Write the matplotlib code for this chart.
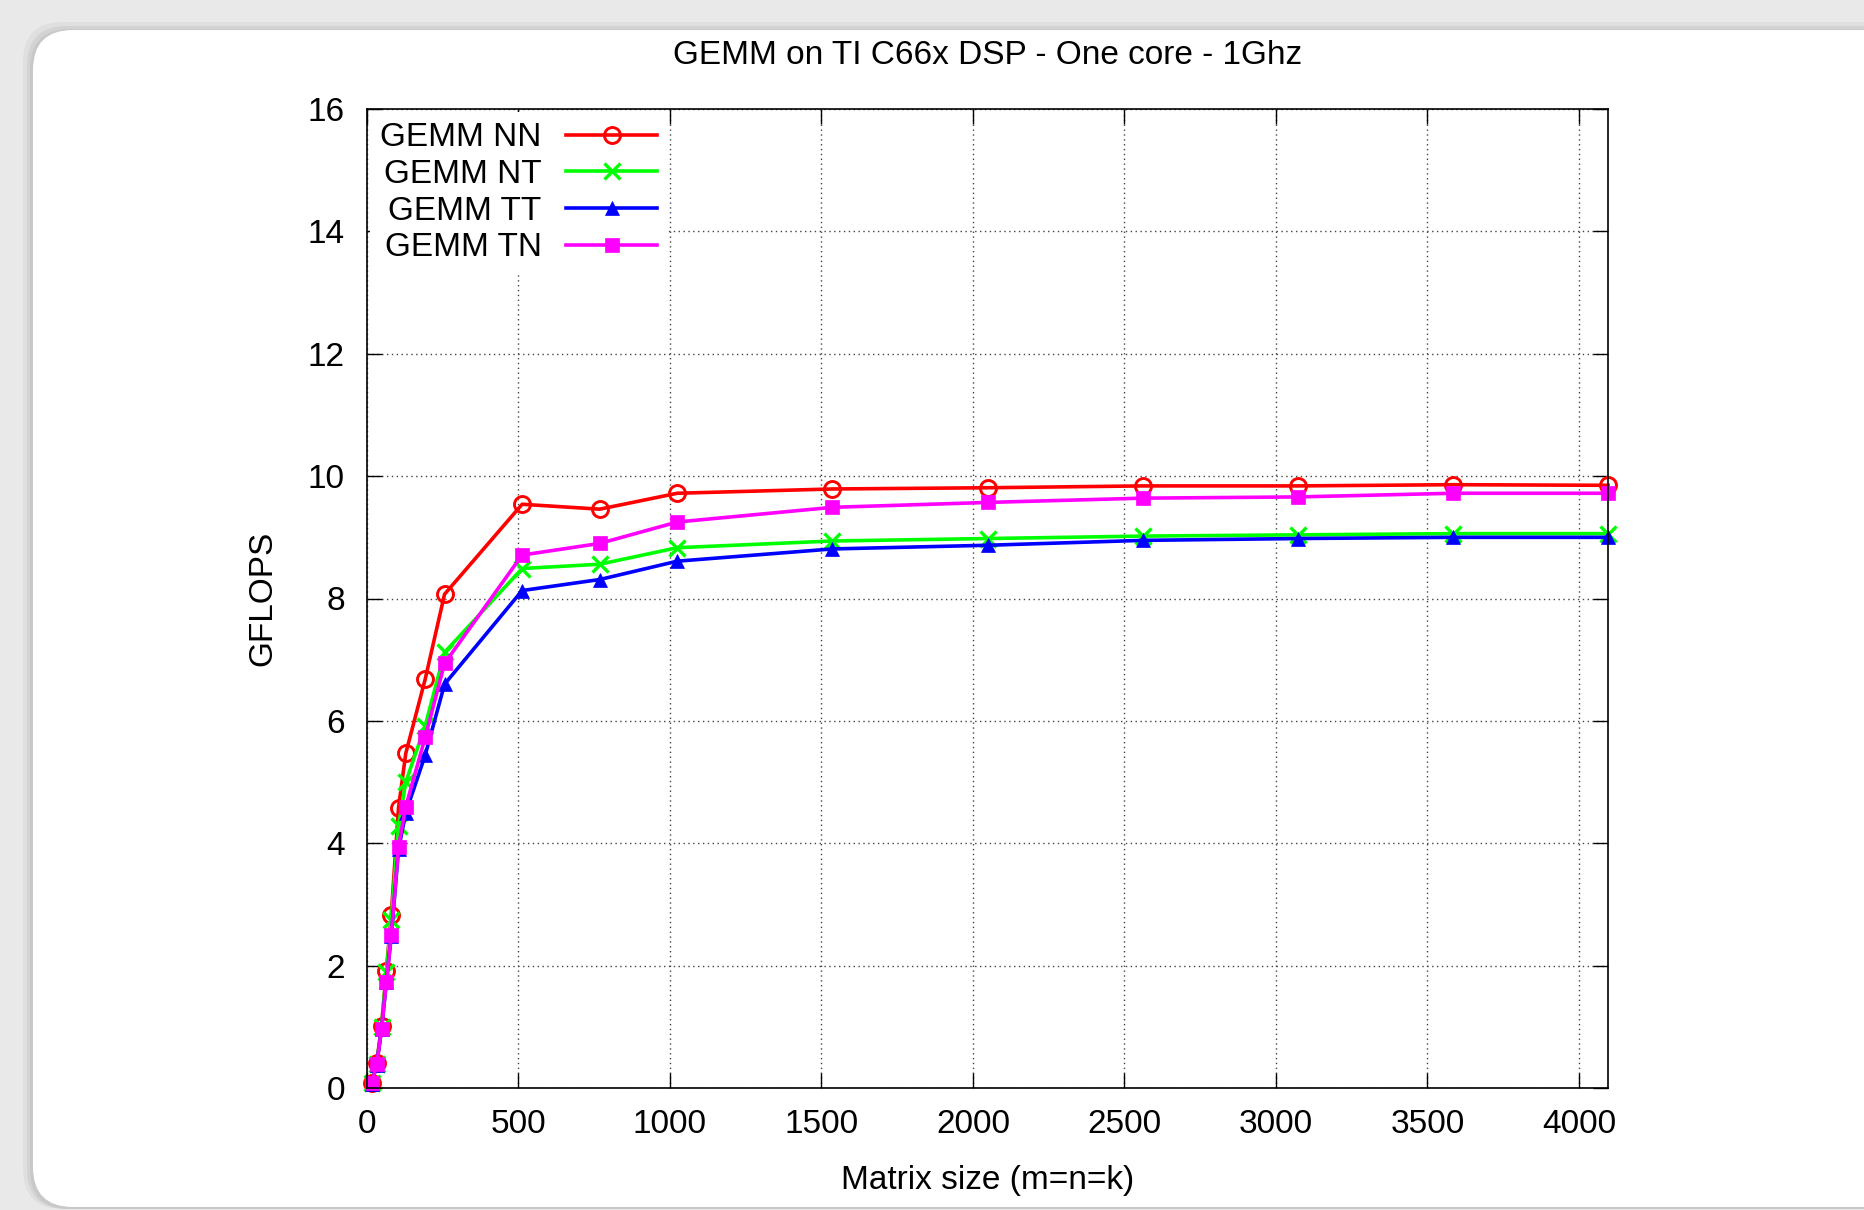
import matplotlib
matplotlib.use("Agg")
import matplotlib.pyplot as plt
from matplotlib.patches import FancyBboxPatch
from matplotlib.transforms import IdentityTransform

plt.rcParams['font.family'] = ['Liberation Sans', 'DejaVu Sans']

# ---- data ----
matrix_size = [16, 32, 48, 64, 80, 104, 128, 192, 256, 512, 768, 1024,
               1536, 2048, 2560, 3072, 3584, 4096]
gemm_nn = [0.08, 0.41, 1.02, 1.92, 2.82, 4.58, 5.47, 6.68, 8.07, 9.54, 9.46,
           9.72, 9.79, 9.81, 9.84, 9.84, 9.86, 9.85]
gemm_nt = [0.08, 0.40, 1.00, 1.90, 2.75, 4.28, 5.00, 5.92, 7.12, 8.49, 8.56,
           8.83, 8.94, 8.98, 9.02, 9.04, 9.06, 9.06]
gemm_tt = [0.07, 0.38, 0.96, 1.74, 2.48, 3.90, 4.50, 5.44, 6.60, 8.13, 8.31,
           8.61, 8.81, 8.87, 8.95, 8.98, 9.00, 9.00]
gemm_tn = [0.08, 0.39, 0.96, 1.74, 2.50, 3.94, 4.60, 5.73, 6.94, 8.71, 8.90,
           9.25, 9.49, 9.57, 9.64, 9.66, 9.72, 9.72]
series_labels = ['GEMM NN', 'GEMM NT', 'GEMM TT', 'GEMM TN']
x_ticks = [0, 500, 1000, 1500, 2000, 2500, 3000, 3500, 4000]
y_ticks = [0, 2, 4, 6, 8, 10, 12, 14, 16]
title = 'GEMM on TI C66x DSP - One core - 1Ghz'
xlabel = 'Matrix size (m=n=k)'
ylabel = 'GFLOPS'

W, H = 1864, 1210
fig = plt.figure(figsize=(W / 100, H / 100), dpi=100)
fig.patch.set_facecolor('#e9e9e9')

# panel shadow + white rounded panel (pixel coordinates)
for off, col, a, z in [(10, '#d6d6d6', 0.5, -5), (6, '#cccccc', 0.6, -4), (3, '#c4c4c4', 0.7, -3)]:
    sh = FancyBboxPatch((33 - off + 40, 3 - 2 + 40), W + 200, 1177 + off - 80,
                        boxstyle='round,pad=40,rounding_size=40',
                        transform=IdentityTransform(), facecolor=col,
                        edgecolor='none', alpha=a, zorder=z)
    fig.patches.append(sh)
panel = FancyBboxPatch((33 + 40, 3 + 40), W + 200, 1177 - 80,
                       boxstyle='round,pad=40,rounding_size=40',
                       transform=IdentityTransform(), facecolor='white',
                       edgecolor='none', zorder=-2)
fig.patches.append(panel)

ax_l, ax_r, ax_t, ax_b = 367, 1608, 109, 1088
ax = fig.add_axes([ax_l / W, 1 - ax_b / H, (ax_r - ax_l) / W, (ax_b - ax_t) / H])
ax.set_facecolor('white')
ax.set_zorder(1)

styles = [
    dict(color='#ff0000', marker='o', markerfacecolor='none', markeredgecolor='#ff0000',
         markersize=11.5, markeredgewidth=2.1),
    dict(color='#00ff00', marker='x', markersize=11.5, markeredgewidth=2.4),
    dict(color='#0000ff', marker='^', markersize=9.5, markeredgewidth=0.5),
    dict(color='#ff00ff', marker='s', markersize=10, markeredgewidth=0.5),
]
for ys, lab, st in zip([gemm_nn, gemm_nt, gemm_tt, gemm_tn], series_labels, styles):
    ax.plot(matrix_size, ys, label=lab, linewidth=2.6, clip_on=False, **st)

ax.set_xlim(0, 4096)
ax.set_ylim(0, 16)
ax.set_xticks(x_ticks)
ax.set_yticks(y_ticks)
ax.tick_params(direction='in', length=11, width=1.0, top=True, right=True,
               labelsize=24, pad=16, colors='black')
ax.tick_params(axis='x', pad=15)
for s in ax.spines.values():
    s.set_linewidth(1.2)
    s.set_color('black')
ax.grid(True, linestyle=(0, (1, 2.5)), color='#444444', linewidth=1.0)
ax.set_axisbelow(True)

fig.text((ax_l + ax_r) / 2 / W, 1 - 55.5 / H, title, ha='center', va='center', fontsize=24)
fig.text((ax_l + ax_r) / 2 / W, 1 - 1181 / H, xlabel, ha='center', va='center', fontsize=24)
fig.text(263 / W, 1 - 598 / H, ylabel, ha='center', va='center', rotation=90, fontsize=24)

leg = ax.legend(loc='upper left', markerfirst=False, frameon=True, fancybox=False,
                facecolor='white', edgecolor='none', framealpha=1.0, fontsize=24,
                handlelength=2.75, handletextpad=0.72, labelspacing=0.17,
                borderpad=0.3, borderaxespad=0.1, numpoints=1)
for t in leg.get_texts():
    t.set_ha('right')
leg.set_zorder(5)

fig.savefig('out.png', dpi=100, facecolor=fig.get_facecolor())
